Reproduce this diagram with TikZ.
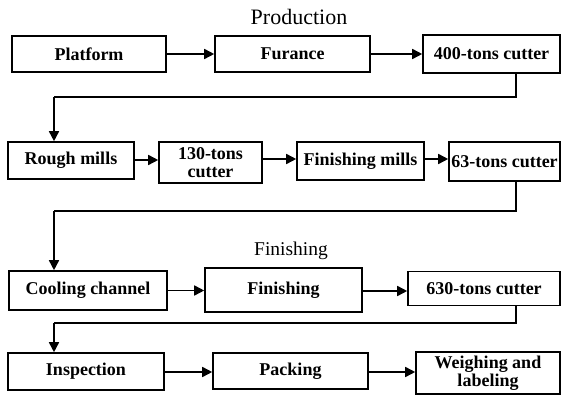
\documentclass[tikz,border=0pt]{standalone}
\usepackage{fontspec}
\setmainfont{Liberation Serif}
\usetikzlibrary{arrows.meta}
\tikzset{
  box/.style={draw, line width=1.6pt, inner sep=0pt, align=center,
    font=\bfseries\fontsize{18}{18}\selectfont},
  arr/.style={line width=1.6pt, -{Triangle[length=10pt,width=10pt]}},
  conn/.style={line width=1.6pt},
  ttl/.style={font=\fontsize{22}{24}\selectfont}
}
\begin{document}
\begin{tikzpicture}[x=1pt,y=-1pt]
\useasboundingbox (0,0) rectangle (562,395);
% titles
\node[ttl] (tprod) at (299,17) {Production};
\node[ttl, font=\fontsize{19.5}{21}\selectfont] (tfin) at (291,251) {Finishing};
% row 1
\node[box, minimum width=154pt, minimum height=36pt] (a1) at (89,54) {Platform};
\node[box, minimum width=155pt, minimum height=36pt] (a2) at (292.5,54) {Furance};
\node[box, minimum width=137pt, minimum height=38pt] (a3) at (491.5,54) {400-tons cutter};
% row 2
\node[box, minimum width=126pt, minimum height=37pt] (b1) at (71,160.5) {Rough mills};
\node[box, minimum width=103pt, minimum height=41pt] (b2) at (210.5,162.5) {130-tons\\cutter};
\node[box, minimum width=127pt, minimum height=38pt] (b3) at (360.5,161) {Finishing mills};
\node[box, minimum width=111pt, minimum height=39pt] (b4) at (504.5,161.5) {63-tons cutter};
% row 3
\node[box, minimum width=158pt, minimum height=39pt] (c1) at (88,290.5) {Cooling channel};
\node[box, minimum width=157pt, minimum height=44pt] (c2) at (283.5,290) {Finishing};
\node[box, minimum width=152pt, minimum height=34pt] (c3) at (484,288.5) {630-tons cutter};
% row 4
\node[box, minimum width=156pt, minimum height=37pt] (d1) at (86,371.5) {Inspection};
\node[box, minimum width=155pt, minimum height=36pt] (d2) at (290.5,371) {Packing};
\node[box, minimum width=144pt, minimum height=42pt] (d3) at (488,373) {Weighing and\\labeling};
% horizontal arrows
\draw[arr] (a1.east) -- (a2.west);
\draw[arr] (a2.east) -- (a3.west);
\draw[arr] (b1.east |- 0,160) -- (b2.west |- 0,160);
\draw[arr] (b2.east |- 0,159) -- (b3.west |- 0,159);
\draw[arr] (b3.east |- 0,159) -- (b4.west |- 0,159);
\draw[arr] (c1.east) -- (c2.west |- c1.east);
\draw[arr] (c2.east |- 0,291) -- (c3.west |- 0,291);
\draw[arr] (d1.east |- 0,372) -- (d2.west |- 0,372);
\draw[arr] (d2.east |- 0,372) -- (d3.west |- 0,372);
% return connectors
\coordinate (k1) at (516,97);
\coordinate (m1) at (54,97);
\draw[conn] (k1 |- a3.south) -- (k1) -- (m1);
\draw[arr] (m1) -- (m1 |- b1.north);
\coordinate (k2) at (516,211);
\coordinate (m2) at (54,211);
\draw[conn] (k2 |- b4.south) -- (k2) -- (m2);
\draw[arr] (m2) -- (m2 |- c1.north);
\coordinate (k3) at (516,323);
\coordinate (m3) at (54,323);
\draw[conn] (k3 |- c3.south) -- (k3) -- (m3);
\draw[arr] (m3) -- (m3 |- d1.north);
\end{tikzpicture}
\end{document}
